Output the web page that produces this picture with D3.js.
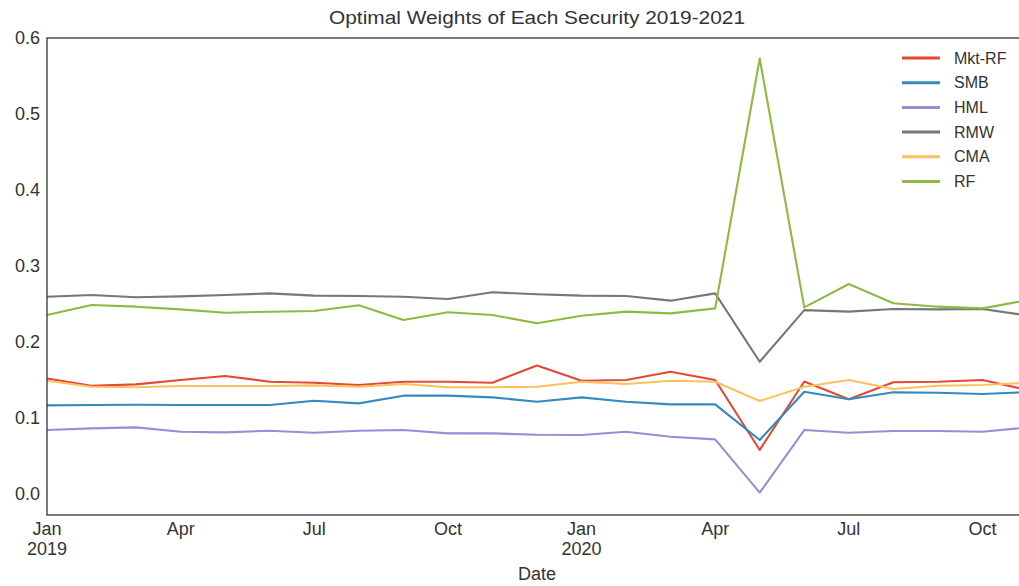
<!DOCTYPE html>
<html lang="en">
<head>
    <meta charset="UTF-8">
    <title>Optimal Weights of Each Security 2019-2021</title>
    <script src="https://cdn.jsdelivr.net/npm/d3@7"></script>
    <style>
        html, body { margin: 0; padding: 0; background: #fff; overflow: hidden; }
        #chart { width: 1019px; height: 586px; }
        text { font-family: "Liberation Sans", Arial, sans-serif; fill: #333; }
    </style>
</head>
<body>
<div id="chart"></div>
<script>
    // months Jan 2019 .. Nov 2020
    var months = ["2019-01", "2019-02", "2019-03", "2019-04", "2019-05", "2019-06", "2019-07", "2019-08",
        "2019-09", "2019-10", "2019-11", "2019-12", "2020-01", "2020-02", "2020-03", "2020-04",
        "2020-05", "2020-06", "2020-07", "2020-08", "2020-09", "2020-10", "2020-11"];

    var mktRF = [0.152, 0.1425, 0.1443, 0.150, 0.1553, 0.1478, 0.1465, 0.1434, 0.1478, 0.1478, 0.1465, 0.169,
        0.149, 0.150, 0.161, 0.150, 0.058, 0.148, 0.1246, 0.147, 0.1478, 0.150, 0.137];
    var smb = [0.1167, 0.1171, 0.1175, 0.1171, 0.1171, 0.1171, 0.1228, 0.1193, 0.1294, 0.1294, 0.1272, 0.1215,
        0.1272, 0.1215, 0.118, 0.118, 0.0711, 0.1346, 0.1246, 0.1338, 0.1333, 0.1316, 0.134];
    var hml = [0.0842, 0.0864, 0.0877, 0.082, 0.0811, 0.0833, 0.0807, 0.0833, 0.0842, 0.0798, 0.0798, 0.078,
        0.0776, 0.082, 0.0754, 0.0719, 0.0018, 0.0842, 0.0807, 0.0829, 0.0829, 0.082, 0.0875];
    var rmw = [0.2596, 0.2618, 0.2588, 0.2601, 0.2618, 0.264, 0.261, 0.2605, 0.2596, 0.2566, 0.2654, 0.2628,
        0.261, 0.2605, 0.2544, 0.264, 0.174, 0.242, 0.240, 0.2434, 0.243, 0.2434, 0.235];
    var cma = [0.1491, 0.1412, 0.1404, 0.1421, 0.1421, 0.1421, 0.143, 0.1412, 0.1447, 0.1404, 0.1404, 0.1412,
        0.1478, 0.1447, 0.1491, 0.1478, 0.1224, 0.1412, 0.150, 0.1382, 0.1425, 0.1434, 0.1463];
    var rf = [0.2355, 0.2487, 0.2465, 0.243, 0.2386, 0.2399, 0.2408, 0.2483, 0.2289, 0.2391, 0.2355, 0.2246,
        0.2346, 0.240, 0.2377, 0.2443, 0.573, 0.2456, 0.2763, 0.251, 0.2465, 0.2443, 0.255];

    var seriesNames = ["Mkt-RF", "SMB", "HML", "RMW", "CMA", "RF"];
    var seriesValues = [mktRF, smb, hml, rmw, cma, rf];
    var colors = ["#E24A33", "#348ABD", "#988ED5", "#777777", "#FBC15E", "#8EBA42"];
    var yTicks = [0.0, 0.1, 0.2, 0.3, 0.4, 0.5, 0.6];
    var xTicks = ["2019-01", "2019-04", "2019-07", "2019-10", "2020-01", "2020-04", "2020-07", "2020-10"];
    var monthNames = {"01": "Jan", "04": "Apr", "07": "Jul", "10": "Oct"};

    var drawChart = function (divname) {
        // plot area (right edge sits just past the visible window, as in the picture)
        var pLeft = 47, pRight = 1027, pTop = 38, pBottom = 515;

        var _svg = d3.select("#" + divname).append("svg")
            .attr("width", 1019)
            .attr("height", 586);

        var x = d3.scalePoint().domain(months).range([pLeft, pRight]);
        var y = d3.scaleLinear().domain([-0.0276, 0.6]).range([pBottom, pTop]);

        // lines
        var line = d3.line()
            .x(function (d, i) { return x(months[i]); })
            .y(function (d) { return y(d); });

        _svg.append("g").selectAll("path")
            .data(seriesValues)
            .enter()
            .append("path")
            .attr("d", function (d) { return line(d); })
            .attr("fill", "none")
            .attr("stroke", function (d, i) { return colors[i]; })
            .attr("stroke-width", 2.1)
            .attr("stroke-linejoin", "round");

        // spines
        _svg.append("rect")
            .attr("x", pLeft).attr("y", pTop)
            .attr("width", pRight - pLeft).attr("height", pBottom - pTop)
            .attr("fill", "none")
            .attr("stroke", "#333")
            .attr("stroke-width", 1.3);

        // y tick labels
        _svg.append("g").selectAll("text")
            .data(yTicks)
            .enter()
            .append("text")
            .attr("x", pLeft - 7)
            .attr("y", function (d) { return y(d); })
            .attr("dy", "0.35em")
            .attr("text-anchor", "end")
            .style("font-size", "18px")
            .text(function (d) { return d3.format(".1f")(d); });

        // x tick labels
        var xg = _svg.append("g").selectAll("text")
            .data(xTicks)
            .enter()
            .append("text")
            .attr("x", function (d) { return x(d); })
            .attr("y", pBottom + 20)
            .attr("text-anchor", "middle")
            .style("font-size", "18px");
        xg.append("tspan")
            .attr("x", function (d) { return x(d); })
            .text(function (d) { return monthNames[d.slice(5)]; });
        xg.filter(function (d) { return d.slice(5) === "01"; })
            .append("tspan")
            .attr("x", function (d) { return x(d); })
            .attr("dy", 20)
            .text(function (d) { return d.slice(0, 4); });

        // axis label
        _svg.append("text")
            .attr("x", (pLeft + pRight) / 2)
            .attr("y", 580)
            .attr("text-anchor", "middle")
            .style("font-size", "18px")
            .text("Date");

        // title
        _svg.append("text")
            .attr("x", (pLeft + pRight) / 2)
            .attr("y", 24)
            .attr("text-anchor", "middle")
            .attr("textLength", 416)
            .attr("lengthAdjust", "spacingAndGlyphs")
            .style("font-size", "18px")
            .text("Optimal Weights of Each Security 2019-2021");

        // legend
        var legend = _svg.append("g").selectAll("g")
            .data(seriesNames)
            .enter()
            .append("g")
            .attr("transform", function (d, i) { return "translate(902," + (58 + i * 24.7) + ")"; });
        legend.append("line")
            .attr("x1", 0).attr("x2", 38)
            .attr("stroke", function (d, i) { return colors[i]; })
            .attr("stroke-width", 3);
        legend.append("text")
            .attr("x", 52)
            .attr("dy", "0.35em")
            .style("font-size", "16px")
            .text(function (d) { return d; });
    };
    drawChart("chart");
</script>
</body>
</html>
